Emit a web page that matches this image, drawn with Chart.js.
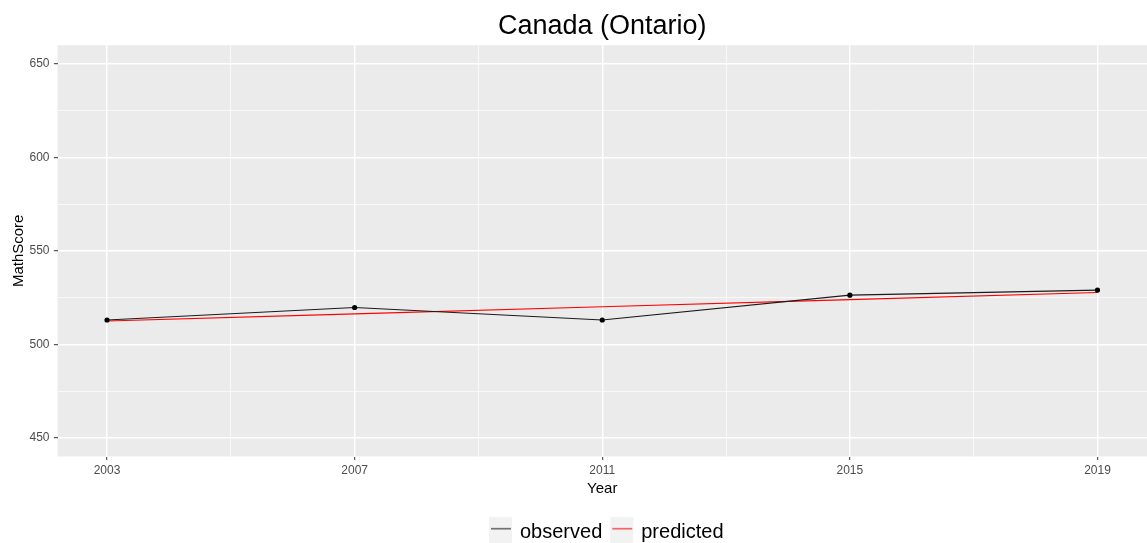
<!DOCTYPE html>
<html>
<head>
<meta charset="utf-8">
<title>Canada (Ontario)</title>
<script src="https://cdn.jsdelivr.net/npm/chart.js@4/dist/chart.umd.min.js"></script>
<style>
  html, body { margin: 0; padding: 0; background: #ffffff; }
  #wrap { width: 1147px; height: 543px; position: relative; }
</style>
</head>
<body>
<div id="wrap"><canvas id="chart" width="1147" height="543"></canvas></div>
<script>
// Assessment years and scores
const years = [2003, 2007, 2011, 2015, 2019];
const observed = [513.0, 519.7, 513.0, 526.3, 529.0];
const predicted = [512.5, 516.3, 520.1, 523.9, 527.7];

// Axis breaks (major labelled, minor unlabelled)
const xMajor = [2003, 2007, 2011, 2015, 2019];
const xMinor = [2005, 2009, 2013, 2017];
const yMajor = [450, 500, 550, 600, 650];
const yMinor = [475, 525, 575, 625];

const titleText = 'Canada (Ontario)';
const xTitle = 'Year';
const yTitle = 'MathScore';

const FONT = "'Liberation Sans', Arial, sans-serif";
const PANEL = '#EBEBEB';
const TICK_TEXT = '#4D4D4D';

const isMajor = (list, v) => list.some(m => Math.abs(m - v) < 1e-6);

// Grey panel behind the grid
const panelPlugin = {
  id: 'panel',
  beforeDraw(chart) {
    const { ctx, chartArea: a } = chart;
    ctx.save();
    ctx.fillStyle = PANEL;
    ctx.fillRect(a.left, a.top, a.right - a.left, a.bottom - a.top);
    ctx.restore();
  }
};

// Title centred over the panel and legend centred below it
const decorPlugin = {
  id: 'decor',
  afterDraw(chart) {
    const { ctx, chartArea: a } = chart;
    ctx.save();
    ctx.fillStyle = '#000000';
    ctx.font = '27px ' + FONT;
    ctx.textAlign = 'center';
    ctx.textBaseline = 'alphabetic';
    ctx.fillText(titleText, (a.left + a.right) / 2, 33.5);

    // legend
    ctx.font = '20px ' + FONT;
    ctx.textAlign = 'left';
    const ds = chart.data.datasets;
    const keyW = 23, keyH = 26, gap = 8, itemGap = 8;
    const widths = ds.map(d => keyW + gap + ctx.measureText(d.label).width);
    const total = widths.reduce((s, w) => s + w, 0) + itemGap * (ds.length - 1);
    let x = (a.left + a.right) / 2 + 4 - total / 2;
    const keyTop = 517;
    ds.forEach((d, i) => {
      ctx.fillStyle = '#F2F2F2';
      ctx.fillRect(x, keyTop, keyW, keyH);
      ctx.strokeStyle = d.borderColor;
      ctx.globalAlpha = 0.6;
      ctx.lineWidth = 1.7;
      ctx.beginPath();
      ctx.moveTo(x + 2, 528.7);
      ctx.lineTo(x + keyW - 1, 528.7);
      ctx.stroke();
      ctx.globalAlpha = 1;
      ctx.fillStyle = '#000000';
      ctx.fillText(d.label, x + keyW + gap, 538);
      x += widths[i] + itemGap;
    });
    ctx.restore();
  }
};

const toPoints = vals => years.map((y, i) => ({ x: y, y: vals[i] }));

new Chart(document.getElementById('chart'), {
  type: 'line',
  data: {
    datasets: [
      {
        label: 'observed',
        data: toPoints(observed),
        borderColor: '#1A1A1A',
        backgroundColor: '#000000',
        borderWidth: 1.1,
        pointRadius: 2.6,
        pointBorderWidth: 0,
        pointBackgroundColor: '#000000',
        tension: 0
      },
      {
        label: 'predicted',
        data: toPoints(predicted),
        borderColor: '#FF0000',
        backgroundColor: '#FF0000',
        borderWidth: 1.1,
        pointRadius: 0,
        tension: 0
      }
    ]
  },
  options: {
    responsive: false,
    animation: false,
    devicePixelRatio: 1,
    layout: { autoPadding: false, padding: { top: 45.2, right: 0, bottom: 43.5, left: 0 } },
    plugins: {
      legend: { display: false },
      title: { display: false },
      tooltip: { enabled: false }
    },
    scales: {
      x: {
        type: 'linear',
        min: 2002.2,
        max: 2019.8,
        afterBuildTicks(scale) {
          scale.ticks = [...xMajor, ...xMinor].sort((a, b) => a - b).map(v => ({ value: v }));
        },
        afterFit(scale) {
          scale.height = 43;
          scale.paddingLeft = 0;
          scale.paddingRight = 0;
        },
        border: { display: false },
        grid: {
          color: '#FFFFFF',
          lineWidth: c => isMajor(xMajor, c.tick.value) ? 1.4 : 0.7,
          tickColor: c => isMajor(xMajor, c.tick.value) ? '#333333' : 'rgba(0,0,0,0)',
          tickWidth: 1,
          tickLength: 3.6
        },
        ticks: {
          autoSkip: false,
          maxRotation: 0,
          padding: 3.7,
          color: TICK_TEXT,
          font: { family: FONT, size: 12 },
          callback: v => isMajor(xMajor, v) ? String(v) : ''
        },
        title: {
          display: true,
          text: xTitle,
          color: '#000000',
          font: { family: FONT, size: 15 },
          padding: { top: 0, bottom: 1.5 }
        }
      },
      y: {
        type: 'linear',
        min: 440,
        max: 660,
        afterBuildTicks(scale) {
          scale.ticks = [...yMajor, ...yMinor].sort((a, b) => a - b).map(v => ({ value: v }));
        },
        afterFit(scale) {
          scale.width = 57.5;
          scale.paddingTop = 0;
          scale.paddingBottom = 0;
        },
        border: { display: false },
        grid: {
          color: '#FFFFFF',
          lineWidth: c => isMajor(yMajor, c.tick.value) ? 1.4 : 0.7,
          tickColor: c => isMajor(yMajor, c.tick.value) ? '#333333' : 'rgba(0,0,0,0)',
          tickWidth: 1,
          tickLength: 3.6
        },
        ticks: {
          autoSkip: false,
          padding: 4.4,
          color: TICK_TEXT,
          font: { family: FONT, size: 12 },
          callback: v => isMajor(yMajor, v) ? String(v) : ''
        },
        title: {
          display: true,
          text: yTitle,
          color: '#000000',
          font: { family: FONT, size: 15 },
          padding: { top: 10, bottom: 0 }
        }
      }
    }
  },
  plugins: [panelPlugin, decorPlugin]
});
</script>
</body>
</html>
